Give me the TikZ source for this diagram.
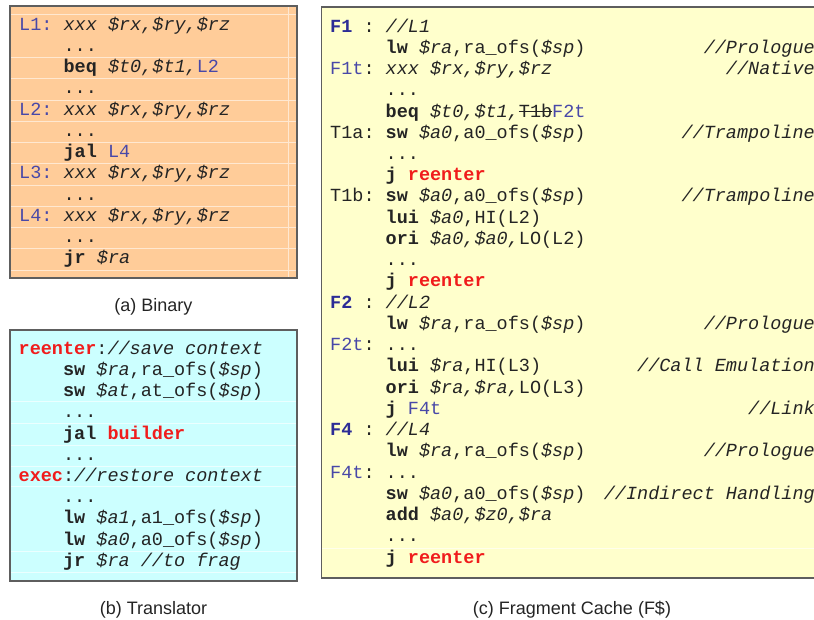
\documentclass[tikz,border=0pt]{standalone}
\usepackage{fontspec}
\setmainfont{Liberation Sans}
\setsansfont{Liberation Sans}
\setmonofont{Liberation Mono}

\definecolor{ink}{HTML}{242424}
\definecolor{edge}{HTML}{5E5E5E}
\definecolor{peach}{HTML}{FFCC99}
\definecolor{paleCyan}{HTML}{CCFFFF}
\definecolor{paleYellow}{HTML}{FFFFCC}
\definecolor{lblue}{HTML}{4848A8}
\definecolor{fblue}{HTML}{2C2C96}
\definecolor{hotred}{HTML}{F01C1C}

% code markup
\newcommand\mn[1]{\textbf{#1}}
\newcommand\rgi[1]{\textit{#1}}
\newcommand\lbl[1]{\textcolor{lblue}{#1}}
\newcommand\fbl[1]{\textcolor{fblue}{\textbf{#1}}}
\newcommand\rdb[1]{\textcolor{hotred}{\textbf{#1}}}
\newcommand\colA[1]{\makebox[2.4em][l]{#1}}
\newcommand\colC[1]{\makebox[3em][l]{#1}}
\newcommand\struck[1]{\rlap{\rule[0.27em]{1.8em}{0.06em}}#1}

\begin{document}
\begin{tikzpicture}[x=1pt,y=-1pt,
  code/.style={anchor=base west,inner sep=0pt,text=ink,
    font=\ttfamily\fontsize{18.5}{21}\selectfont},
  note/.style={code,anchor=base east},
  panel/.style={draw=edge,line width=1.5pt},
  cellrule/.style={line width=0.8pt},
  caption/.style={anchor=base,inner sep=0pt,text=ink,
    font=\sffamily\fontsize{18}{20}\selectfont}]
\clip (0,0) rectangle (814,619);

% panels
\fill[peach] (10,6) rectangle (297,278);
\fill[paleCyan] (10,330) rectangle (297,581);
\fill[paleYellow] (321.5,7) rectangle (830,578);

% faint table cell rules inside the panels
\foreach \yy in {14.3,57.7,78.7,100,121.7,142.7,163.3,185,206,227,248.3,270}
  \draw[cellrule,white!55!peach] (10,\yy) -- (297,\yy);
\draw[cellrule,white!55!peach] (288.3,6) -- (288.3,278);
\foreach \yy in {401.7,423,445,466,486.7,551.7,572.7}
  \draw[cellrule,white!60!paleCyan] (10,\yy) -- (297,\yy);
\draw[cellrule,white!60!paleYellow] (321.5,548) -- (830,548);

\draw[panel] (10,6) rectangle (297,278);
\draw[panel] (10,330) rectangle (297,581);
\draw[panel] (321.5,7) rectangle (830,578);

% (a) Binary
\node[code] (a1)  at (19,30.0)  {\colA{\lbl{L1:}}\rgi{xxx \$rx,\$ry,\$rz}};
\node[code] (a2)  at (19,51.3)  {\colA{}...};
\node[code] (a3)  at (19,72.5)  {\colA{}\mn{beq} \rgi{\$t0,\$t1,}\lbl{L2}};
\node[code] (a4)  at (19,93.8)  {\colA{}...};
\node[code] (a5)  at (19,115.0) {\colA{\lbl{L2:}}\rgi{xxx \$rx,\$ry,\$rz}};
\node[code] (a6)  at (19,136.3) {\colA{}...};
\node[code] (a7)  at (19,157.5) {\colA{}\mn{jal} \lbl{L4}};
\node[code] (a8)  at (19,178.8) {\colA{\lbl{L3:}}\rgi{xxx \$rx,\$ry,\$rz}};
\node[code] (a9)  at (19,200.0) {\colA{}...};
\node[code] (a10) at (19,221.3) {\colA{\lbl{L4:}}\rgi{xxx \$rx,\$ry,\$rz}};
\node[code] (a11) at (19,242.5) {\colA{}...};
\node[code] (a12) at (19,263.8) {\colA{}\mn{jr} \rgi{\$ra}};
\node[caption] (capA) at (153.5,311) {(a) Binary};

% (b) Translator
\node[code] (b1)  at (18.5,354.3) {\rdb{reenter}:\rgi{//save context}};
\node[code] (b2)  at (18.5,375.5) {\colA{}\mn{sw} \rgi{\$ra},ra\_ofs(\rgi{\$sp})};
\node[code] (b3)  at (18.5,396.7) {\colA{}\mn{sw} \rgi{\$at},at\_ofs(\rgi{\$sp})};
\node[code] (b4)  at (18.5,417.9) {\colA{}...};
\node[code] (b5)  at (18.5,439.1) {\colA{}\mn{jal} \rdb{builder}};
\node[code] (b6)  at (18.5,460.3) {\colA{}...};
\node[code] (b7)  at (18.5,481.5) {\rdb{exec}:\rgi{//restore context}};
\node[code] (b8)  at (18.5,502.7) {\colA{}...};
\node[code] (b9)  at (18.5,523.9) {\colA{}\mn{lw} \rgi{\$a1},a1\_ofs(\rgi{\$sp})};
\node[code] (b10) at (18.5,545.1) {\colA{}\mn{lw} \rgi{\$a0},a0\_ofs(\rgi{\$sp})};
\node[code] (b11) at (18.5,566.3) {\colA{}\mn{jr} \rgi{\$ra //to frag}};
\node[caption] (capB) at (153.5,614) {(b) Translator};

% (c) Fragment Cache
\node[code] (c1)  at (330,32.0)  {\colC{\fbl{F1} :}\rgi{//L1}};
\node[code] (c2)  at (330,53.2)  {\colC{}\mn{lw} \rgi{\$ra},ra\_ofs(\rgi{\$sp})};
\node[code] (c3)  at (330,74.5)  {\colC{\lbl{F1t}:}\rgi{xxx \$rx,\$ry,\$rz}};
\node[code] (c4)  at (330,95.7)  {\colC{}...};
\node[code] (c5)  at (330,117.0) {\colC{}\mn{beq} \rgi{\$t0,\$t1,}\struck{T1b}\lbl{F2t}};
\node[code] (c6)  at (330,138.2) {\colC{T1a:}\mn{sw} \rgi{\$a0},a0\_ofs(\rgi{\$sp})};
\node[code] (c7)  at (330,159.4) {\colC{}...};
\node[code] (c8)  at (330,180.7) {\colC{}\mn{j} \rdb{reenter}};
\node[code] (c9)  at (330,201.9) {\colC{T1b:}\mn{sw} \rgi{\$a0},a0\_ofs(\rgi{\$sp})};
\node[code] (c10) at (330,223.2) {\colC{}\mn{lui} \rgi{\$a0},HI(L2)};
\node[code] (c11) at (330,244.4) {\colC{}\mn{ori} \rgi{\$a0,\$a0,}LO(L2)};
\node[code] (c12) at (330,265.6) {\colC{}...};
\node[code] (c13) at (330,286.9) {\colC{}\mn{j} \rdb{reenter}};
\node[code] (c14) at (330,308.1) {\colC{\fbl{F2} :}\rgi{//L2}};
\node[code] (c15) at (330,329.4) {\colC{}\mn{lw} \rgi{\$ra},ra\_ofs(\rgi{\$sp})};
\node[code] (c16) at (330,350.6) {\colC{\lbl{F2t}:}...};
\node[code] (c17) at (330,371.8) {\colC{}\mn{lui} \rgi{\$ra},HI(L3)};
\node[code] (c18) at (330,393.1) {\colC{}\mn{ori} \rgi{\$ra,\$ra,}LO(L3)};
\node[code] (c19) at (330,414.3) {\colC{}\mn{j} \lbl{F4t}};
\node[code] (c20) at (330,435.6) {\colC{\fbl{F4} :}\rgi{//L4}};
\node[code] (c21) at (330,456.8) {\colC{}\mn{lw} \rgi{\$ra},ra\_ofs(\rgi{\$sp})};
\node[code] (c22) at (330,478.0) {\colC{\lbl{F4t}:}...};
\node[code] (c23) at (330,499.3) {\colC{}\mn{sw} \rgi{\$a0},a0\_ofs(\rgi{\$sp})};
\node[code] (c24) at (330,520.5) {\colC{}\mn{add} \rgi{\$a0,\$z0,\$ra}};
\node[code] (c25) at (330,541.8) {\colC{}...};
\node[code] (c26) at (330,563.0) {\colC{}\mn{j} \rdb{reenter}};

% right-hand comments
\node[note] (n2)  at (815,53.2)  {\rgi{//Prologue}};
\node[note] (n3)  at (815,74.5)  {\rgi{//Native}};
\node[note] (n6)  at (815,138.2) {\rgi{//Trampoline}};
\node[note] (n9)  at (815,201.9) {\rgi{//Trampoline}};
\node[note] (n15) at (815,329.4) {\rgi{//Prologue}};
\node[note] (n17) at (815,371.8) {\rgi{//Call Emulation}};
\node[note] (n19) at (815,414.3) {\rgi{//Link}};
\node[note] (n21) at (815,456.8) {\rgi{//Prologue}};
\node[note] (n23) at (815,499.3) {\rgi{//Indirect Handling}};

\node[caption] (capC) at (572,614) {(c) Fragment Cache (F\$)};
\end{tikzpicture}
\end{document}
